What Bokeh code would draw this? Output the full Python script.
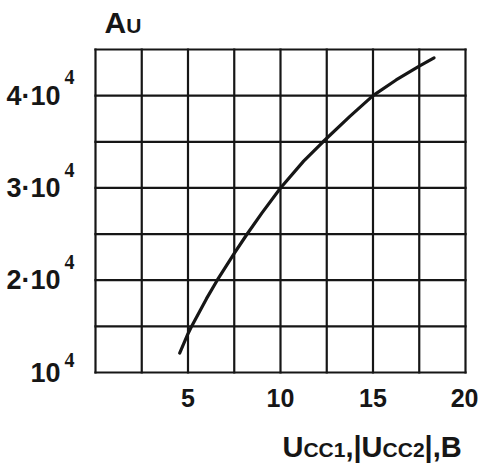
from bokeh.plotting import figure
from bokeh.models import FixedTicker, Label, Range1d
from bokeh.embed import file_html
from bokeh.resources import INLINE

# ---- data ----
u_supply = [4.55, 5.0, 5.17, 6.0, 6.58, 7.5, 8.16, 9.0, 10.0, 11.25, 12.3, 13.75, 15.0, 16.25, 17.5, 18.3]
gain = [12100, 14200, 14900, 18000, 20000, 22900, 24900, 27300, 30000, 32900, 35000, 37750, 40000, 41700, 43200, 44100]

x_ticks = [5, 10, 15, 20]
x_tick_labels = ["5", "10", "15", "20"]
y_ticks = [10000, 20000, 30000, 40000]
y_tick_labels = ["10", "2\u00b710", "3\u00b710", "4\u00b710"]
y_tick_exponents = ["4", "4", "4", "4"]
x_grid = [0, 2.5, 5, 7.5, 10, 12.5, 15, 17.5, 20]
y_grid = [10000, 15000, 20000, 25000, 30000, 35000, 40000, 45000]
x_min, x_max = 0, 20
y_min, y_max = 10000, 45000

FONT = "Liberation Sans"
INK = "#161616"
BASE_FIX = 0.37  # em shift so that "alphabetic" labels sit on the wanted baseline

# ---- layout: pixel box of the grid inside a 478x466 canvas ----
W, H = 478, 466
GX0, GX1, GY0, GY1 = 95, 465, 49, 372
xs = (x_max - x_min) / (GX1 - GX0)
ys = (y_max - y_min) / (GY1 - GY0)
x_range = Range1d(x_min - GX0 * xs, x_max + (W - GX1) * xs)
y_range = Range1d(y_min - (H - GY1) * ys, y_max + GY0 * ys)

p = figure(width=W, height=H, x_range=x_range, y_range=y_range,
           output_backend="svg", toolbar_location=None)
p.min_border = 0
p.min_border_left = 0
p.min_border_right = 0
p.min_border_top = 0
p.min_border_bottom = 0
p.background_fill_color = "white"
p.border_fill_color = "white"
p.outline_line_color = None
p.xgrid.visible = False
p.ygrid.visible = False

for ax in (p.xaxis[0], p.yaxis[0]):
    ax.axis_line_color = None
    ax.major_tick_line_color = None
    ax.minor_tick_line_color = None
    ax.major_tick_out = 0
    ax.major_tick_in = 0
    ax.major_label_text_font = FONT
    ax.major_label_text_font_style = "bold"
    ax.major_label_text_color = INK

p.xaxis.fixed_location = y_min
p.xaxis.ticker = FixedTicker(ticks=x_ticks)
p.xaxis.major_label_overrides = {t: s for t, s in zip(x_ticks, x_tick_labels)}
p.xaxis.major_label_standoff = 16
p.xaxis.major_label_text_font_size = "25px"

p.yaxis.fixed_location = x_min
p.yaxis.ticker = FixedTicker(ticks=y_ticks)
p.yaxis.major_label_overrides = {t: s for t, s in zip(y_ticks, y_tick_labels)}
p.yaxis.major_label_standoff = 35
p.yaxis.major_label_text_font_size = "27px"

# exponents of the y tick labels (superscript placement)
EXP_SIZE = 20
exp_raise = [5, 11, 11, 11]
p.text(x=[x_min] * len(y_ticks), y=y_ticks, text=y_tick_exponents,
       x_offset=-31, y_offset=[-r - BASE_FIX * EXP_SIZE for r in exp_raise],
       text_align="left", text_baseline="alphabetic",
       text_font=FONT, text_font_style="bold", text_font_size=f"{EXP_SIZE}px", text_color=INK)

# grid (cell borders) drawn from the grid value lists
p.segment(x0=x_grid, y0=[y_min] * len(x_grid), x1=x_grid, y1=[y_max] * len(x_grid),
          line_color=INK, line_width=2.2, line_cap="square")
p.segment(x0=[x_min] * len(y_grid), y0=y_grid, x1=[x_max] * len(y_grid), y1=y_grid,
          line_color=INK, line_width=2.2, line_cap="square")

p.line(u_supply, gain, line_color=INK, line_width=3.2, line_cap="round", line_join="round")

# ---- axis titles built from segments (canvas pixel placement) ----
ADV = {"U": 0.722, "C": 0.722, "A": 0.722, "B": 0.722, "1": 0.556, "2": 0.556,
       ",": 0.278, "|": 0.28}

def place(segments, left_px, baseline_px):
    x = left_px
    for txt, size in segments:
        p.add_layout(Label(x=x, y=H - baseline_px + BASE_FIX * size, x_units="screen", y_units="screen",
                           text=txt, text_font=FONT, text_font_style="bold",
                           text_font_size=f"{size}px", text_color=INK,
                           text_align="left", text_baseline="alphabetic"))
        x += sum(ADV.get(c, 0.6) for c in txt) * size

BIG, SMALL = 29, 21
place([("A", 30), ("U", 21)], 104, 33)
place([("U", BIG), ("CC1", SMALL), (",", BIG), ("|", BIG), ("U", BIG), ("CC2", SMALL),
       ("|", BIG), (",", BIG), ("B", BIG)], 282, 457)

open("out.html", "w").write(file_html(p, INLINE))
